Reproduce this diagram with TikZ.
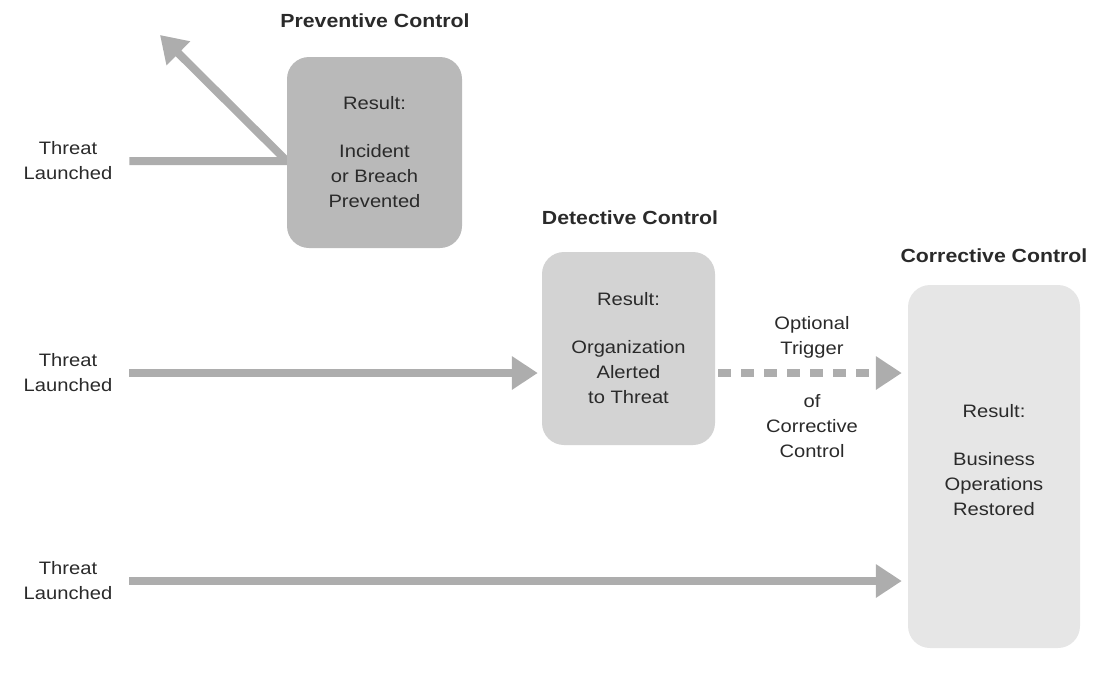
\documentclass[tikz,border=0pt]{standalone}
\usepackage{fontspec}
\setmainfont[FakeStretch=1.12]{Liberation Sans}
\usetikzlibrary{arrows.meta}
\usetikzlibrary{backgrounds}

\definecolor{flowgray}{HTML}{ADADAD}
\definecolor{prevgray}{HTML}{B9B9B9}
\definecolor{detgray}{HTML}{D3D3D3}
\definecolor{corrgray}{HTML}{E6E6E6}
\definecolor{inkgray}{HTML}{2A2A2A}

\begin{document}
\begin{tikzpicture}[x=1pt,y=1pt,
		plain/.style={align=center, inner sep=0pt, text=inkgray, font=\fontsize{18}{25}\selectfont},
		heading/.style={inner sep=0pt, text=inkgray, font=\fontsize{19}{25}\selectfont\bfseries},
		result/.style={plain, rectangle, rounded corners=22pt},
		flow/.style={line width=8pt, draw=flowgray, -{Triangle[length=26pt,width=32pt]}}
	]
			\useasboundingbox (0,0) rectangle (1095,-673);
			% controls
			\node[result, fill=prevgray, minimum width=175pt, minimum height=191pt] (prev) at (374.5,-152.5) {Result:\\[23pt]Incident\\or Breach\\Prevented};
			\node[heading] (prevT) at (375,-21) {Preventive Control};
			\node[result, fill=detgray, minimum width=173pt, minimum height=193pt] (det) at (628.5,-348.5) {Result:\\[23pt]Organization\\Alerted\\to Threat};
			\node[heading] (detT) at (630,-218) {Detective Control};
			\node[result, fill=corrgray, minimum width=172pt, minimum height=363pt] (corr) at (994,-466.5) {Result:\\[23pt]Business\\Operations\\Restored\\[-11pt]};
			\node[heading] (corrT) at (994,-256) {Corrective Control};
			% threats
			\node[plain] (t1) at (68,-161) {Threat\\Launched};
			\node[plain] (t2) at (68,-373) {Threat\\Launched};
			\node[plain] (t3) at (68,-581) {Threat\\Launched};
			\coordinate (blocked) at (160,-35);
			\node[plain] (trig) at (812,-337) {Optional\\Trigger};
			\node[plain] (trigB) at (812,-426) {of\\Corrective\\Control};
			\begin{scope}[on background layer]
				\draw [flow, line join=round, shorten <=17pt] (t1.east) -- (t1 -| prev.west) -- (blocked);
			\end{scope}
			\draw [flow, shorten <=17pt, shorten >=4pt] (t2.east) -- (t2 -| det.west);
			\draw [flow, dash pattern=on 13pt off 10pt, shorten <=3pt, shorten >=6pt] (det.east |- t2) -- (t2 -| corr.west);
			\draw [flow, shorten <=17pt, shorten >=6pt] (t3.east) -- (t3 -| corr.west);
		\end{tikzpicture}
\end{document}
